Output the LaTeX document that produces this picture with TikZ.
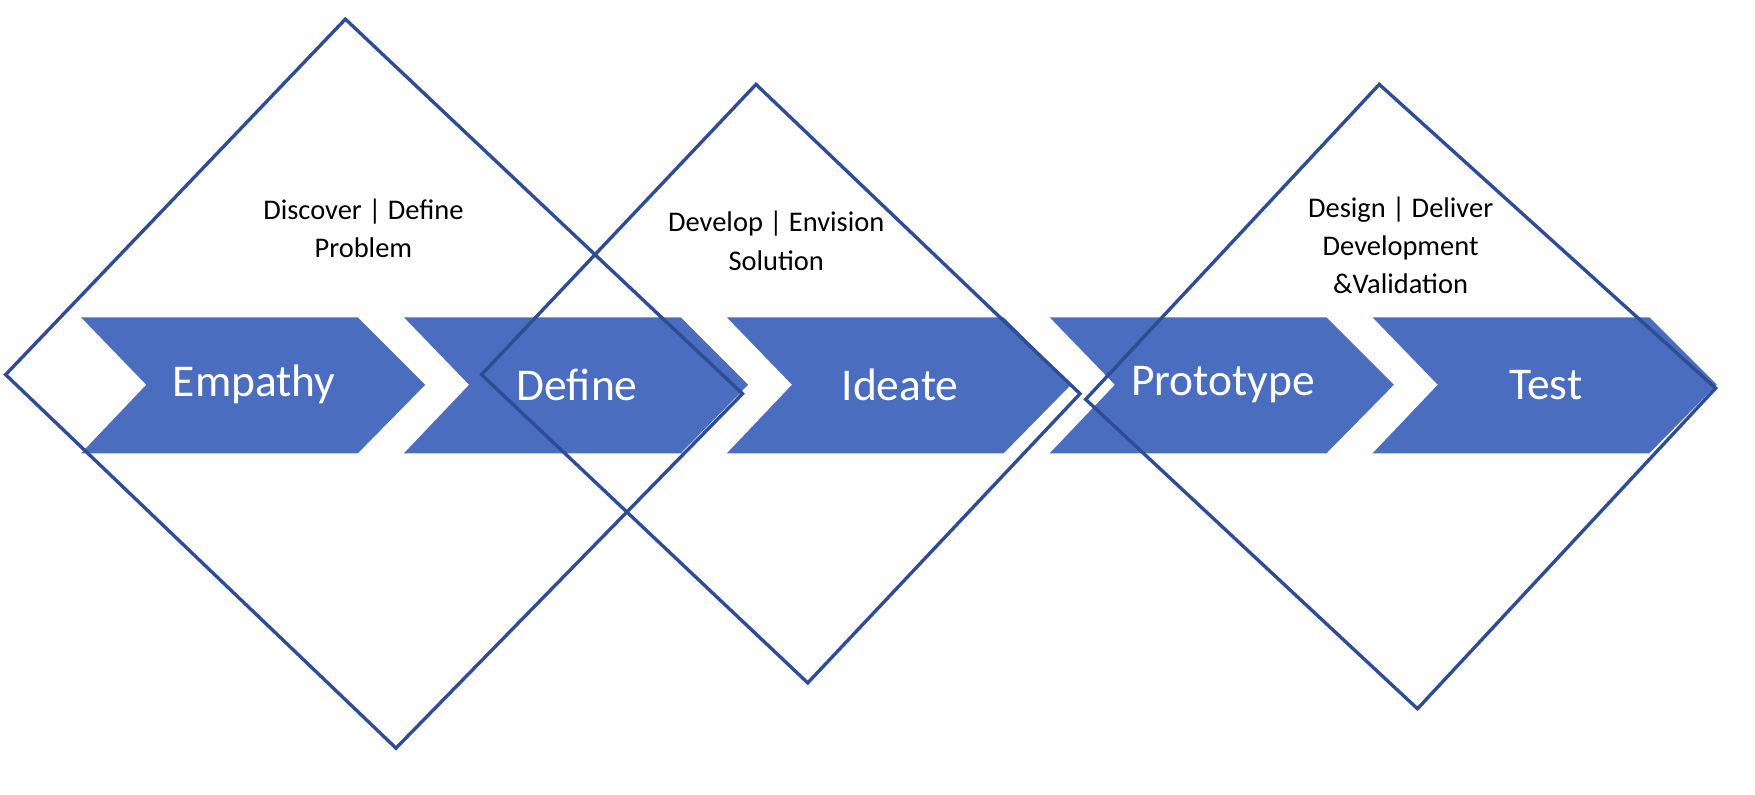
\documentclass[tikz,border=0pt]{standalone}
\usepackage{fontspec}
\setmainfont{Carlito}
\definecolor{chev}{HTML}{4A6DBF}
\definecolor{dline}{HTML}{2F4C96}
\begin{document}
\begin{tikzpicture}[x=0.1mm,y=-0.1mm,
  chevron/.style={fill=chev,draw=none},
  stagelbl/.style={text=white,font=\fontsize{11.5}{13}\selectfont},
  phase/.style={align=center,font=\fontsize{7.2}{9.7}\selectfont},
  diam/.style={draw=dline,line width=0.3mm,line join=miter}]
\useasboundingbox (0,0) rectangle (1560,706);
\def\dx{287};

% chevrons
\foreach \i/\t in {0/Empathy,1/Define,2/Ideate,3/Prototype,4/Test}{
  \fill[chevron] (72+\i*\dx,282) -- (318+\i*\dx,282) -- (378+\i*\dx,342) -- (318+\i*\dx,403) -- (72+\i*\dx,403) -- (130+\i*\dx,342) -- cycle;
  \node[stagelbl] (s\i) at (226+\i*\dx,342) {\t};
}

% diamonds
\coordinate (Ta) at (307,17);  \coordinate (La) at (5,333);   \coordinate (Ba) at (352,665);  \coordinate (Ra) at (660,350);
\coordinate (Tb) at (672,75);  \coordinate (Lb) at (428,333); \coordinate (Bb) at (718,607);  \coordinate (Rb) at (960,350);
\coordinate (Tc) at (1226,75); \coordinate (Lc) at (965,355); \coordinate (Bc) at (1260,630); \coordinate (Rc) at (1525,345);
\draw[diam] (Ta) -- (Ra) -- (Ba) -- (La) -- cycle;
\draw[diam] (Tb) -- (Rb) -- (Bb) -- (Lb) -- cycle;
\draw[diam] (Tc) -- (Rc) -- (Bc) -- (Lc) -- cycle;

\node[phase] (pa) at (323,203) {Discover | Define\\Problem};
\node[phase] (pb) at (690,214) {Develop | Envision\\Solution};
\node[phase] (pc) at (1245,218) {Design | Deliver\\Development\\\&Validation};
\end{tikzpicture}
\end{document}
